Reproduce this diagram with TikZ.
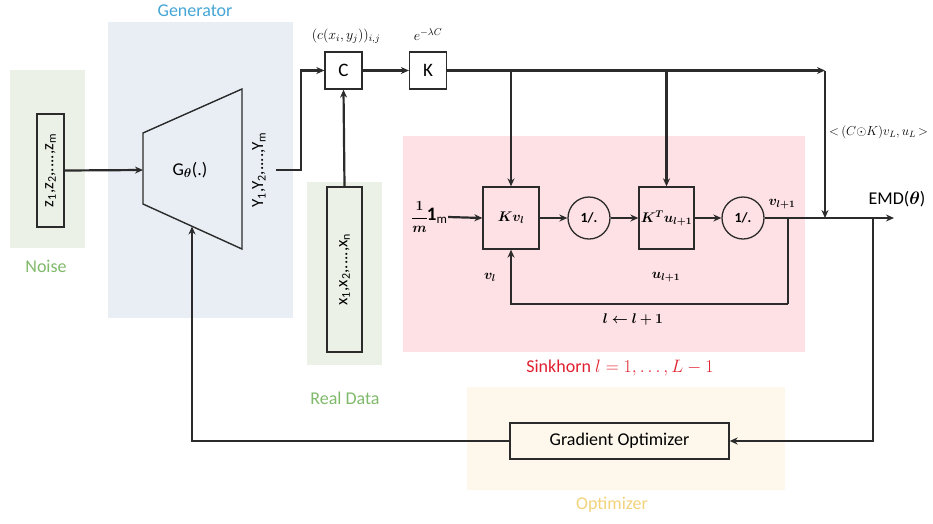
\documentclass[tikz,border=0pt]{standalone}
\usepackage[no-math]{fontspec}
\setmainfont{Carlito}
\usepackage{fix-cm}
\usepackage{amsmath,bm,graphicx}
\usetikzlibrary{arrows.meta,calc}
\definecolor{noisebg}{HTML}{EBF1E6}
\definecolor{genbg}{HTML}{E9EEF5}
\definecolor{sinkbg}{HTML}{FDE1E4}
\definecolor{optbg}{HTML}{FEF8EC}
\definecolor{gencol}{HTML}{45A5D5}
\definecolor{greencol}{HTML}{7FB96A}
\definecolor{redcol}{HTML}{E0202F}
\definecolor{optcol}{HTML}{F2D27A}
\definecolor{ink}{HTML}{2B2B2B}
\begin{document}
\begin{tikzpicture}[x=1pt,y=-1pt,
  conn/.style={draw=ink,line width=2.2pt},
  arr/.style={conn,-{Stealth[length=8pt,width=7pt]}},
  box/.style={draw=ink,line width=1.3pt,inner sep=0pt},
  circ/.style={draw=ink,line width=1.3pt,circle,inner sep=0pt,minimum size=42pt},
  lab/.style={font=\fontsize{18}{20}\selectfont},
  mlab/.style={font=\fontsize{14}{16}\selectfont},
  bmlab/.style={font=\fontsize{14}{16}\selectfont}]
\useasboundingbox (0,0) rectangle (933,523);
% backgrounds
\fill[noisebg] (10,70) rectangle (85,248);
\fill[genbg] (108,22) rectangle (293,318);
\fill[noisebg] (307,182) rectangle (382,365);
\fill[sinkbg] (403,136) rectangle (805,352);
\fill[optbg] (467,387) rectangle (785,490);
% group labels
\node[lab,text=gencol] (glab) at (195,11) {Generator};
\node[lab,text=greencol] (nlab) at (46,266) {Noise};
\node[lab,text=greencol] (rlab) at (345,398) {Real Data};
\node[lab,text=redcol] (slab) at (620,368) {Sinkhorn $l=1,\ldots,L-1$};
\node[lab,text=optcol] (olab) at (612,505) {Optimizer};
% generator
\node[box,minimum width=27pt,minimum height=113pt] (z) at (50.5,170.5)
  {\rotatebox{90}{\fontsize{17}{18}\selectfont z\textsubscript{1},z\textsubscript{2},....,z\textsubscript{m}}};
\draw[ink,line width=1.4pt] (143,133) -- (242,89) -- (242,249) -- (143,204) -- cycle;
\coordinate (gin) at (143,170);
\coordinate (gbot) at (192,226.5);
\node[lab] (G) at (190,170) {G\textsubscript{$\bm{\theta}$}(.)};
\node[inner sep=0pt] (Y) at (259,170)
  {\rotatebox{90}{\fontsize{17}{18}\selectfont Y\textsubscript{1},Y\textsubscript{2},....,Y\textsubscript{m}}};
\coordinate (yout) at (276,170);
\draw[arr] (z.east) -- (gin);
% cost and kernel
\node[box,minimum size=37pt] (C) at (343.5,70.5) {\fontsize{19}{20}\selectfont C};
\node[box,minimum size=37pt] (K) at (428,70.5) {\fontsize{19}{20}\selectfont K};
\node[mlab] (clab) at (346,36) {$(c(x_i,y_j))_{i,j}$};
\node[mlab] (klab) at (428,35) {$e^{-\lambda C}$};
\node[box,minimum width=35pt,minimum height=165pt] (X) at (344.5,269.5)
  {\rotatebox{90}{\fontsize{17}{18}\selectfont x\textsubscript{1},x\textsubscript{2},....,x\textsubscript{n}}};
\draw[arr] (yout) -- (301,170) |- (C.west);
\draw[arr] (X.north) -- (C.south);
\draw[arr] (C.east) -- (K.west);
\coordinate (cr) at (825,70.5);
\draw[arr] (K.east) -- (cr);
% sinkhorn
\node[bmlab,inner sep=1pt] (one) at (429,217)
  {$\displaystyle\bm{\frac{1}{m}}$\hspace{-1pt}\raisebox{1pt}{\fontsize{19}{20}\selectfont\textbf{1}}\raisebox{-2pt}{\fontsize{13}{14}\selectfont m}};
\node[box,bmlab,minimum width=56pt,minimum height=62pt] (Kv) at (511,218) {$\bm{Kv_l}$};
\node[circ,bmlab] (c1) at (589,218) {\textbf{1/.}};
\node[box,bmlab,minimum width=55pt,minimum height=62pt] (KT) at (666.5,218) {$\bm{K^Tu_{l+1}}$};
\node[circ,bmlab] (c2) at (743,218) {\textbf{1/.}};
\draw[arr] (one.east) -- (Kv.west);
\draw[arr] (Kv.east) -- (c1.west);
\draw[arr] (c1.east) -- (KT.west);
\draw[arr] (KT.east) -- (c2.west);
\draw[arr] (Kv.north |- K.east) -- (Kv.north);
\draw[arr] (KT.north |- K.east) -- (KT.north);
\coordinate (br) at (788,218);
\coordinate (bl) at (788,304);
\coordinate (emdc) at (873,218);
\coordinate (emdend) at (894,218);
\draw[conn] (br) -- (bl);
\draw[arr] (bl) -| (Kv.south);
\draw[arr] (c2.east) -- (emdend);
\draw[arr] (cr) -- (cr |- emdend);
\node[bmlab] (vl1) at (782,204) {$\bm{v_{l+1}}$};
\node[bmlab] (vl) at (490,277) {$\bm{v_l}$};
\node[bmlab] (ul1) at (666,277) {$\bm{u_{l+1}}$};
\node[bmlab] (upd) at (633,320) {$\bm{l\leftarrow l+1}$};
\node[lab] (emd) at (897,199) {EMD($\bm{\theta}$)};
\node[font=\fontsize{13}{15}\selectfont,anchor=west,inner sep=0pt] (dual) at (829,132)
  {${<}\,(C{\odot}K)v_L,u_L\,{>}$};
% optimizer
\node[box,minimum width=219pt,minimum height=36pt] (GO) at (619.5,441) {\fontsize{18}{20}\selectfont Gradient Optimizer};
\draw[arr] (emdc) |- (GO.east);
\draw[arr] (GO.west) -| (gbot);
\end{tikzpicture}
\end{document}
